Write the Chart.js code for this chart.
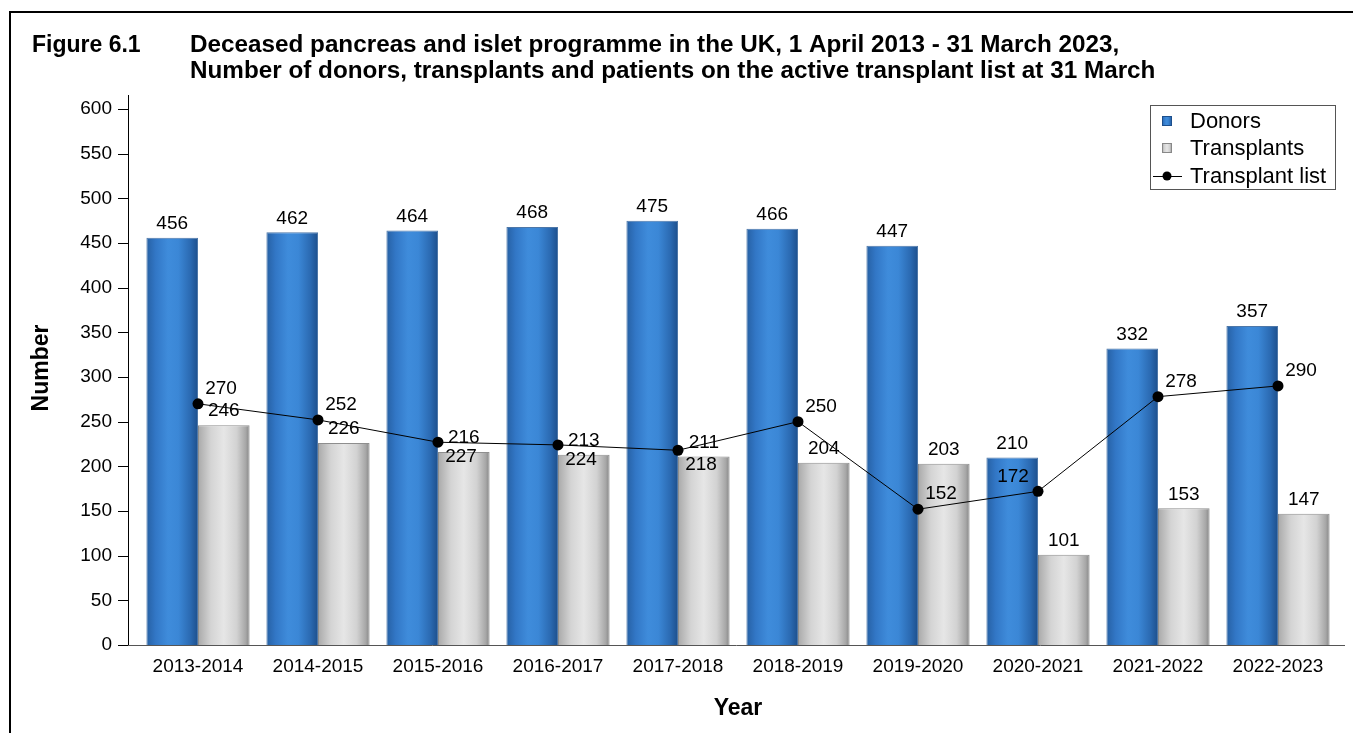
<!DOCTYPE html>
<html lang="en">
<head>
  <meta charset="UTF-8" />
  <title>Figure 6.1 Deceased pancreas and islet programme</title>
  <script src="https://cdn.jsdelivr.net/npm/chart.js"></script>
  <style>
    body { margin: 0; background: #fff; font-family: "Liberation Sans", Arial, sans-serif; }
    .frame { position: absolute; left: 9px; top: 11px; right: -5px; bottom: -5px;
             border-top: 2px solid #000; border-left: 2px solid #000; }
    canvas { position: absolute; left: 0; top: 0; }
  </style>
</head>
<body>
  <div class="frame"></div>
  <canvas id="chart" width="1353" height="733"></canvas>

  <script>
    const years = ['2013-2014', '2014-2015', '2015-2016', '2016-2017', '2017-2018',
                   '2018-2019', '2019-2020', '2020-2021', '2021-2022', '2022-2023'];
    const donors = [456, 462, 464, 468, 475, 466, 447, 210, 332, 357];
    const transplants = [246, 226, 216, 213, 211, 204, 203, 101, 153, 147];
    const transplantList = [270, 252, 227, 224, 218, 250, 152, 172, 278, 290];
    const yMax = 600;
    const yStep = 50;

    // where each transplant list label sits next to its point
    const listLabelSide = ['up', 'up', 'down', 'down', 'down', 'up', 'up', 'upLeft', 'up', 'up'];

    const FONT = '"Liberation Sans", Arial, sans-serif';

    function barGradient(ctx, x0, x1, stops) {
      const g = ctx.createLinearGradient(x0, 0, x1, 0);
      stops.forEach(s => g.addColorStop(s[0], s[1]));
      return g;
    }
    const blueStops = [[0, '#2660a3'], [0.18, '#3277c6'], [0.42, '#3f8cdb'], [0.62, '#3b87d6'], [0.85, '#2b6ab2'], [1, '#1d4f8c']];
    const greyStops = [[0, '#a9a9a9'], [0.25, '#d4d4d4'], [0.5, '#e6e6e6'], [0.75, '#d2d2d2'], [0.92, '#a8a8a8'], [1, '#868686']];

    // each bar gets its own horizontal shading once its position is known
    const shadedBars = {
      id: 'shadedBars',
      beforeDatasetsDraw(chart) {
        const ctx = chart.ctx;
        [0, 1].forEach(i => {
          const stops = i === 0 ? blueStops : greyStops;
          chart.getDatasetMeta(i).data.forEach(bar => {
            bar.options.backgroundColor = barGradient(ctx, bar.x - bar.width / 2, bar.x + bar.width / 2, stops);
          });
        });
      }
    };

    const axisLines = {
      id: 'axisLines',
      afterDraw(chart) {
        const { ctx, chartArea } = chart;
        const y = chart.scales.y;
        const axisX = chartArea.left - 10;
        ctx.save();
        ctx.strokeStyle = '#000';
        ctx.lineWidth = 1;
        ctx.beginPath();
        ctx.moveTo(axisX + 0.5, chartArea.top - 14);
        ctx.lineTo(axisX + 0.5, chartArea.bottom);
        y.ticks.forEach(t => {
          const py = Math.round(y.getPixelForValue(t.value)) + 0.5;
          ctx.moveTo(axisX - 10, py);
          ctx.lineTo(axisX, py);
        });
        ctx.stroke();
        ctx.strokeStyle = '#555';
        ctx.beginPath();
        ctx.moveTo(axisX, chartArea.bottom + 0.5);
        ctx.lineTo(chartArea.right + 7, chartArea.bottom + 0.5);
        ctx.stroke();

        ctx.fillStyle = '#000';
        ctx.font = 'bold 23px ' + FONT;
        ctx.textAlign = 'center';
        ctx.textBaseline = 'middle';
        ctx.translate(42, 368);
        ctx.rotate(-Math.PI / 2);
        ctx.fillText('Number', 0, 0);
        ctx.restore();
      }
    };

    const valueLabels = {
      id: 'valueLabels',
      afterDatasetsDraw(chart) {
        const ctx = chart.ctx;
        ctx.save();
        ctx.font = '19px ' + FONT;
        ctx.fillStyle = '#000';
        ctx.textAlign = 'center';
        ctx.textBaseline = 'middle';
        [0, 1].forEach(i => {
          const values = chart.data.datasets[i].data;
          chart.getDatasetMeta(i).data.forEach((bar, k) => {
            ctx.fillText(values[k], bar.x, bar.y - 14);
          });
        });
        chart.getDatasetMeta(2).data.forEach((pt, k) => {
          const side = listLabelSide[k];
          const dx = side === 'upLeft' ? -25 : 23;
          const dy = side === 'down' ? 15 : -15;
          ctx.fillText(transplantList[k], pt.x + dx, pt.y + dy);
        });
        ctx.restore();
      }
    };

    const titleAndLegend = {
      id: 'titleAndLegend',
      afterDraw(chart) {
        const { ctx, chartArea } = chart;
        ctx.save();
        ctx.fillStyle = '#000';
        ctx.textBaseline = 'alphabetic';
        ctx.textAlign = 'left';
        ctx.font = 'bold 23px ' + FONT;
        ctx.fillText('Figure 6.1', 32, 52);
        ctx.save();
        ctx.translate(190, 0);
        ctx.scale(1.055, 1);
        ctx.fillText('Deceased pancreas and islet programme in the UK, 1 April 2013 - 31 March 2023,', 0, 52);
        ctx.fillText('Number of donors, transplants and patients on the active transplant list at 31 March', 0, 78);
        ctx.restore();

        // legend box in the top right of the plot
        const right = chartArea.right - 3;
        const left = right - 185;
        const top = chartArea.top - 4;
        ctx.strokeStyle = '#555';
        ctx.lineWidth = 1;
        ctx.strokeRect(left + 0.5, top + 0.5, 185, 84);
        const rows = [top + 16, top + 43, top + 71];
        const mx = left + 17;
        [blueStops, greyStops].forEach((stops, i) => {
          ctx.fillStyle = barGradient(ctx, mx - 5, mx + 5, stops);
          ctx.fillRect(mx - 5, rows[i] - 5, 10, 10);
          ctx.strokeStyle = i === 0 ? '#1d4f8c' : '#888';
          ctx.strokeRect(mx - 5 + 0.5, rows[i] - 5 + 0.5, 9, 9);
        });
        ctx.strokeStyle = '#000';
        ctx.beginPath();
        ctx.moveTo(left + 3, rows[2] + 0.5);
        ctx.lineTo(left + 32, rows[2] + 0.5);
        ctx.stroke();
        ctx.fillStyle = '#000';
        ctx.beginPath();
        ctx.arc(mx, rows[2], 4.5, 0, Math.PI * 2);
        ctx.fill();
        ctx.font = '22px ' + FONT;
        ctx.textBaseline = 'middle';
        const names = chart.data.datasets.map(d => d.label);
        names.forEach((n, i) => ctx.fillText(n, left + 40, rows[i] + 1));
        ctx.restore();
      }
    };

    new Chart(document.getElementById('chart'), {
      type: 'bar',
      data: {
        labels: years,
        datasets: [
          // colours given as functions so every bar keeps its own options object
          { label: 'Donors', data: donors, backgroundColor: () => '#3a86d5', borderColor: '#4d77a8', borderWidth: 1,
            categoryPercentage: 0.86, barPercentage: 1.0 },
          { label: 'Transplants', data: transplants, backgroundColor: () => '#d8d8d8', borderColor: '#8e8e8e', borderWidth: 1,
            categoryPercentage: 0.86, barPercentage: 1.0 },
          { label: 'Transplant list', type: 'line', data: transplantList, order: -1,
            borderColor: '#000', borderWidth: 1, pointRadius: 5.5, pointBackgroundColor: '#000',
            pointBorderColor: '#000', pointBorderWidth: 0, tension: 0, fill: false }
        ]
      },
      options: {
        responsive: false,
        animation: false,
        layout: { padding: { top: 109, right: 15, bottom: 0, left: 0 } },
        plugins: { legend: { display: false }, tooltip: { enabled: false } },
        scales: {
          x: {
            grid: { display: false, drawTicks: false },
            border: { display: false },
            ticks: { color: '#000', padding: 10, font: { size: 19, family: FONT } },
            title: { display: true, text: 'Year', color: '#000', padding: { top: 0, bottom: 11 },
                     font: { size: 23, weight: 'bold', family: FONT } },
            afterFit(scale) { scale.height = 88; }
          },
          y: {
            min: 0, max: yMax,
            grid: { display: false, drawTicks: false },
            border: { display: false },
            ticks: { stepSize: yStep, color: '#000', padding: 26, font: { size: 19, family: FONT } },
            afterFit(scale) { scale.width = 138; }
          }
        }
      },
      plugins: [shadedBars, axisLines, valueLabels, titleAndLegend]
    });
  </script>
</body>
</html>
